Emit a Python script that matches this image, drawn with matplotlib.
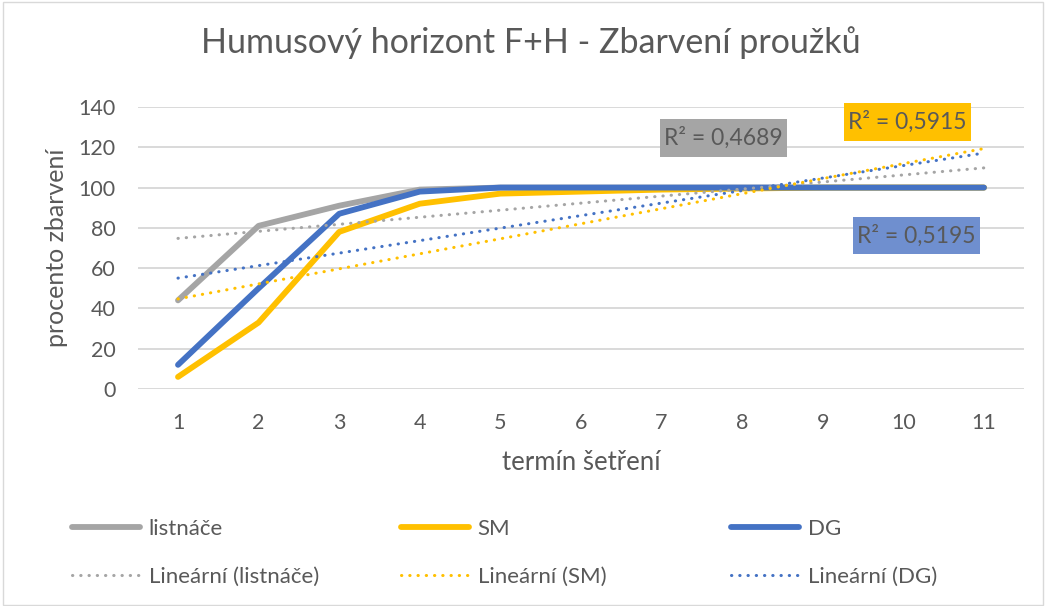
import numpy as np
import matplotlib
matplotlib.use("Agg")
import matplotlib.pyplot as plt
from matplotlib.patches import Rectangle

plt.rcParams['font.family'] = ['Lato', 'DejaVu Sans']

terms = [1, 2, 3, 4, 5, 6, 7, 8, 9, 10, 11]
listnace = [44, 81, 91, 99, 100, 100, 100, 100, 100, 100, 100]
sm = [6, 33, 78, 92, 97, 98, 99, 99.5, 100, 100, 100]
dg = [12, 50, 87, 98, 100, 100, 100, 100, 100, 100, 100]
names = ["listnáče", "SM", "DG"]
colors = ["#A5A5A5", "#FFC000", "#4472C4"]
r2_labels = ["R² = 0,4689", "R² = 0,5915", "R² = 0,5195"]
# label boxes in pixels: (x0, y0, x1, y1)
r2_boxes = [(660, 119, 787, 157), (844, 103, 971, 141), (853, 217, 980, 254)]
box_colors = ["#A5A5A5", "#FFC000", "#6F8FCF"]
leg_cols_x = [72, 401, 731]
leg_rows_y = [528, 578]

W, H = 1045, 606
TXT = '#595959'
fig = plt.figure(figsize=(W / 100, H / 100), dpi=100)
ax = fig.add_axes([137.7 / W, 1 - 389 / H, (1024.3 - 137.7) / W, (389 - 107) / H])

x = np.array(terms, dtype=float)
pairs = []
for name, ys, c in zip(names, [listnace, sm, dg], colors):
    ys = np.array(ys, dtype=float)
    h1, = ax.plot(x, ys, color=c, lw=4.2, solid_capstyle='round', solid_joinstyle='round', label=name, zorder=3)
    k, b = np.polyfit(x, ys, 1)
    h2, = ax.plot(x, k * x + b, color=c, lw=2.2, linestyle=(0, (0.1, 2.6)), dash_capstyle='round',
                  label=f"Lineární ({name})", zorder=4)
    pairs.append((h1, h2))

ax.set_xlim(0.5, 11.5)
ax.set_ylim(0, 140)
ax.set_yticks(range(0, 141, 20))
ax.set_xticks(terms)
ax.grid(axis='y', color='#D9D9D9', lw=1.4)
ax.set_axisbelow(True)
for s in ax.spines.values():
    s.set_visible(False)
ax.tick_params(length=0, labelsize=15.5, labelcolor=TXT)
ax.tick_params(axis='y', pad=16)
ax.tick_params(axis='x', pad=17)
ax.set_xlabel("termín šetření", fontsize=18.5, color=TXT)
ax.xaxis.set_label_coords(0.5, -(462 - 389) / (389 - 107), transform=ax.transAxes)
ax.xaxis.label.set_va('center')
ax.set_ylabel("procento zbarvení", fontsize=18, color=TXT)
ax.yaxis.set_label_coords((56 - 137.7) / (1024.3 - 137.7), 0.5)
ax.yaxis.label.set_va('center')

fig.text(531 / W, 1 - 53 / H, "Humusový horizont F+H - Zbarvení proužků", ha='center', va='baseline',
         fontsize=24.5, color=TXT)

for lab, (x0, y0, x1, y1), bc in zip(r2_labels, r2_boxes, box_colors):
    fig.patches.append(Rectangle((x0 / W, 1 - y1 / H), (x1 - x0) / W, (y1 - y0) / H,
                                 transform=fig.transFigure, fc=bc, ec='none', zorder=5))
    fig.text((x0 + x1) / 2 / W, 1 - (y0 + y1) / 2 / H, lab, ha='center', va='center', fontsize=16.5,
             color=TXT, zorder=6)

for (h1, h2), cx in zip(pairs, leg_cols_x):
    leg = fig.legend(handles=[h1, h2], loc='center left',
                     bbox_to_anchor=(cx / W, 1 - (leg_rows_y[0] + leg_rows_y[1]) / 2 / H),
                     frameon=False, fontsize=16, handlelength=3.05, handletextpad=0.4,
                     labelspacing=1.25, borderpad=0, borderaxespad=0)
    for t in leg.get_texts():
        t.set_color(TXT)

fig.patches.append(Rectangle((3 / W, 1 / H), 1 - 5 / W, 1 - 3 / H, transform=fig.transFigure,
                             fill=False, ec='#D9D9D9', lw=1))

fig.savefig("out.png", dpi=100)
